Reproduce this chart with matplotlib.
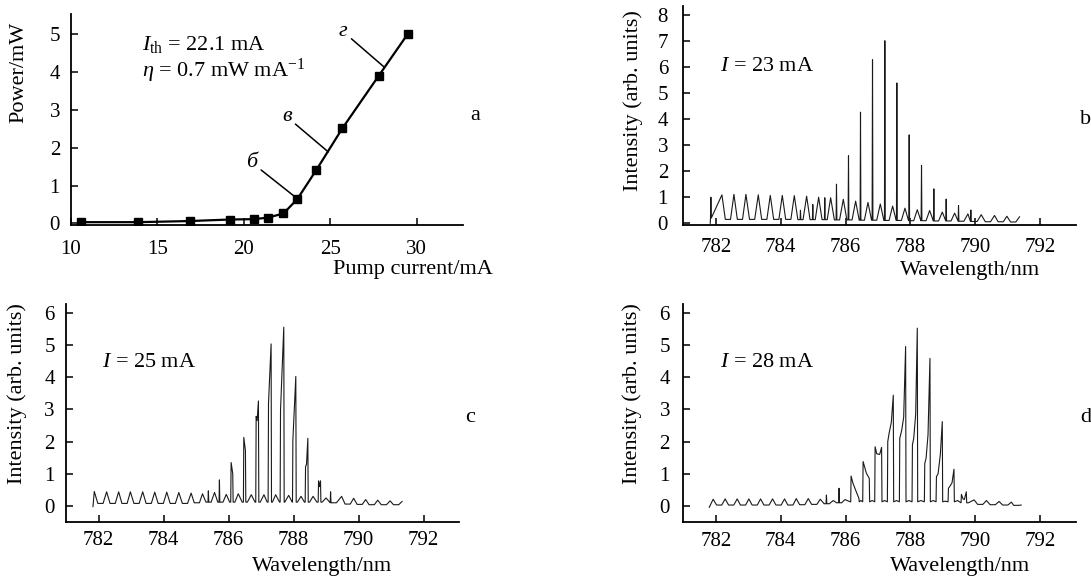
import matplotlib
matplotlib.use("Agg")
import matplotlib.pyplot as plt

plt.rcParams['font.family'] = ['Liberation Serif', 'DejaVu Serif']
plt.rcParams['mathtext.fontset'] = 'custom'
plt.rcParams['mathtext.rm'] = 'Liberation Serif'
plt.rcParams['mathtext.it'] = 'Liberation Serif:italic'
plt.rcParams['mathtext.bf'] = 'Liberation Serif:bold'

# ---------------- panel a: light-current curve ----------------
pump_current = [10.6, 13.9, 16.9, 19.2, 20.6, 21.4, 22.3, 23.1, 24.2, 25.7, 27.8, 29.5]
power_mw = [0.03, 0.03, 0.06, 0.10, 0.11, 0.15, 0.26, 0.64, 1.41, 2.51, 3.90, 5.02]
a_xticks = [10, 15, 20, 25, 30]
a_yticks = [0, 1, 2, 3, 4, 5]
a_marks = ['б', 'в', 'г']
a_mark_text_x = [20.46, 22.49, 25.76]
a_mark_text_y = [1.61, 2.82, 5.07]
a_mark_point_x = [22.97, 24.89, 28.11]
a_mark_point_y = [0.70, 1.89, 4.14]

# ---------------- panel b: I = 23 mA ----------------
b_start = (781.83, 0.0)
b_ripple_wl = [782.19, 782.56, 782.93, 783.31, 783.68, 784.05, 784.42, 784.80, 785.17,
               785.54, 785.93, 786.31, 786.69, 787.07, 787.45, 787.83, 788.21, 788.59,
               788.98, 789.36, 789.77, 790.18, 790.59, 790.97, 791.36]
b_ripple_int = [1.09, 1.11, 1.11, 1.09, 1.07, 1.07, 1.06, 1.04, 1.00, 0.98, 0.92, 0.85,
                0.80, 0.74, 0.66, 0.58, 0.52, 0.49, 0.43, 0.39, 0.36, 0.33, 0.30, 0.27, 0.25]
b_valley_int = [0.20, 0.15, 0.15, 0.15, 0.15, 0.15, 0.15, 0.14, 0.14, 0.14, 0.13, 0.13,
                0.12, 0.12, 0.11, 0.11, 0.10, 0.10, 0.09, 0.09, 0.08, 0.07, 0.06, 0.06, 0.05]
b_spike_wl = [781.85, 784.61, 784.99, 785.36, 785.72, 786.09, 786.46, 786.83, 787.21,
              787.58, 787.96, 788.34, 788.72, 789.10, 789.48, 789.86]
b_spike_int = [1.00, 0.50, 0.72, 0.98, 1.50, 2.59, 4.26, 6.27, 7.00, 5.38, 3.39, 2.22,
               1.32, 0.93, 0.68, 0.51]

# ---------------- panel c: I = 25 mA ----------------
c_start = (781.83, -0.02)
c_ripple_wl = [781.87, 782.25, 782.62, 782.98, 783.36, 783.73, 784.10, 784.47, 784.85,
               785.20, 785.57, 785.93, 786.30, 786.70, 787.09, 787.45, 787.85, 788.23,
               788.60, 789.00, 789.48, 789.85, 790.22, 790.59, 790.97, 791.34]
c_ripple_int = [0.45, 0.44, 0.44, 0.44, 0.44, 0.43, 0.43, 0.42, 0.40, 0.38, 0.42, 0.36,
                0.38, 0.35, 0.35, 0.35, 0.33, 0.30, 0.30, 0.25, 0.30, 0.24, 0.20, 0.18,
                0.16, 0.14]
c_valley_int = [0.00, 0.08, 0.08, 0.08, 0.08, 0.08, 0.08, 0.08, 0.08, 0.10, 0.12, 0.12,
                0.12, 0.12, 0.12, 0.12, 0.12, 0.12, 0.12, 0.12, 0.10, 0.06, 0.05, 0.04,
                0.04, 0.04]
c_spike_wl = [785.38, 785.72, 786.08, 786.13, 786.47, 786.52, 786.85, 786.88, 786.92,
              787.23, 787.31, 787.60, 787.70, 787.98, 788.07, 788.37, 788.40, 788.44,
              788.77, 788.80, 788.83, 789.14]
c_spike_int = [0.47, 0.81, 1.35, 1.00, 2.13, 1.72, 2.78, 2.65, 3.26, 3.19, 5.03, 2.98,
               5.55, 2.05, 4.02, 1.22, 1.30, 2.10, 0.78, 0.60, 0.78, 0.44]

# ---------------- panel d: I = 28 mA ----------------
d_start = (781.80, -0.04)
d_ripple_wl = [781.92, 782.29, 782.66, 783.02, 783.38, 783.75, 784.12, 784.48, 784.85,
               785.22, 785.62, 785.98, 786.47, 786.82, 787.20, 787.57, 787.95, 788.32,
               788.70, 789.07, 789.45, 789.96, 790.34, 790.73, 791.11, 791.41]
d_ripple_int = [0.21, 0.22, 0.22, 0.22, 0.22, 0.22, 0.22, 0.23, 0.23, 0.21, 0.17, 0.20,
                0.17, 0.17, 0.17, 0.17, 0.17, 0.17, 0.17, 0.15, 0.17, 0.19, 0.17, 0.14,
                0.12, 0.03]
d_valley_int = [0.00, 0.03, 0.03, 0.03, 0.03, 0.03, 0.03, 0.03, 0.04, 0.05, 0.07, 0.10,
                0.13, 0.13, 0.13, 0.13, 0.13, 0.13, 0.13, 0.13, 0.13, 0.10, 0.05, 0.04,
                0.03, 0.02]
d_spike_wl = [785.41, 785.80, 786.17, 786.23, 786.33, 786.41, 786.54, 786.64, 786.73,
              786.91, 786.96, 787.05, 787.11, 787.30, 787.34, 787.41, 787.47, 787.67,
              787.73, 787.79, 787.85, 788.06, 788.10, 788.16, 788.21, 788.44, 788.48,
              788.54, 788.60, 788.80, 788.85, 788.92, 788.98, 789.17, 789.22, 789.28,
              789.34, 789.57, 789.62, 789.66, 789.72]
d_spike_int = [0.34, 0.55, 0.93, 0.70, 0.44, 0.24, 1.38, 1.02, 0.86, 1.84, 1.62, 1.60,
               1.82, 2.00, 2.25, 2.60, 3.44, 2.10, 2.35, 2.75, 4.95, 1.90, 2.10, 2.85,
               5.52, 1.32, 1.48, 2.20, 4.58, 0.91, 1.00, 1.60, 2.62, 0.55, 0.62, 0.72,
               1.14, 0.36, 0.22, 0.20, 0.44]

wl_ticks = [782, 784, 786, 788, 790, 792]
b_yticks = [0, 1, 2, 3, 4, 5, 6, 7, 8]
cd_yticks = [0, 1, 2, 3, 4, 5, 6]


VH = 0.08    # half width of flat ripple valley (nm)
HW = 0.012   # half width of spike foot (nm)


def build_trace(start, rip_wl, rip_int, valley, sp_wl, sp_int):
    xs, ys = [start[0]], [start[1]]
    edges = [start[0]] + list(rip_wl)
    for i in range(len(rip_wl)):
        lo, hi = edges[i], edges[i + 1]
        v = valley[i]
        spikes = [(x, y) for x, y in zip(sp_wl, sp_int) if lo < x < hi]
        pts = []
        if spikes:
            fa = spikes[0][0] - HW
            fb = spikes[-1][0] + HW
            pts += [(fa, v)] + spikes + [(fb, v)]
        if i > 0:
            m = 0.5 * (lo + hi)
            for fx in (m - VH, m + VH):
                if not spikes or fx < fa or fx > fb:
                    pts.append((fx, v))
        pts.sort(key=lambda p: p[0])
        for x, y in pts:
            xs.append(x)
            ys.append(y)
        xs.append(rip_wl[i])
        ys.append(rip_int[i])
    return xs, ys


W, H = 1091, 578
fig = plt.figure(figsize=(W / 100, H / 100), dpi=100)


def px_axes(left, right, top, bottom):
    return fig.add_axes([left / W, 1 - bottom / H, (right - left) / W, (bottom - top) / H])


TICK_FS = 15
LAB_FS = 16


def style(ax, xpad, ypad):
    for s in ('top', 'right'):
        ax.spines[s].set_visible(False)
    for s in ('left', 'bottom'):
        ax.spines[s].set_linewidth(1.3)
    ax.tick_params(direction='in', length=5, width=1.1, labelsize=TICK_FS,
                   top=False, right=False)
    ax.tick_params(axis='x', pad=xpad)
    ax.tick_params(axis='y', pad=ypad)


# ---- panel a ----
ax_a = px_axes(70.7, 463, 14, 225)
ax_a.plot(pump_current, power_mw, '-s', color='black', lw=1.6, ms=6)
ax_a.set_xlim(10, 32.68)
ax_a.set_ylim(-0.045, 5.54)
ax_a.set_xticks(a_xticks)
ax_a.set_yticks(a_yticks)
style(ax_a, 10.5, 7.7)
ax_a.set_xlabel('Pump current/mA', fontsize=LAB_FS, va='center')
ax_a.xaxis.set_label_coords(0.873, -0.213)
ax_a.set_ylabel('Power/mW', fontsize=LAB_FS, va='center')
ax_a.yaxis.set_label_coords(-0.132, 0.725)
ax_a.text(14.1, 4.58, r'$I_{\mathrm{th}}$ = 22.1 mA', fontsize=LAB_FS, va='baseline')
ax_a.text(14.1, 3.88, r'$\eta$ = 0.7 mW mA$^{-1}$', fontsize=LAB_FS, va='baseline')
for lab, tx, ty, px, py in zip(a_marks, a_mark_text_x, a_mark_text_y, a_mark_point_x, a_mark_point_y):
    ax_a.annotate(lab, xy=(px, py), xytext=(tx, ty), ha='center', va='center',
                  fontsize=LAB_FS, fontstyle='italic',
                  arrowprops=dict(arrowstyle='-', lw=1.1, color='black', shrinkA=1, shrinkB=0))

# ---- spectra ----
spectra = [
    ('b', (683.3, 1076, 6, 225), (-0.065, 8.33), b_yticks,
     build_trace(b_start, b_ripple_wl, b_ripple_int, b_valley_int, b_spike_wl, b_spike_int),
     r'$I$ = 23 mA', 5.85, (9, 11), (0.730, -0.2055), (-0.129, 0.566)),
    ('c', (66, 459.3, 304, 522.3), (-0.506, 6.27), cd_yticks,
     build_trace(c_start, c_ripple_wl, c_ripple_int, c_valley_int, c_spike_wl, c_spike_int),
     r'$I$ = 25 mA', 4.3, (6, 8), (0.651, -0.2034), (-0.1253, 0.5877)),
    ('d', (683.3, 1076, 304, 522.3), (-0.506, 6.27), cd_yticks,
     build_trace(d_start, d_ripple_wl, d_ripple_int, d_valley_int, d_spike_wl, d_spike_int),
     r'$I$ = 28 mA', 4.3, (7.2, 9.6), (0.7046, -0.2034), (-0.1314, 0.5877)),
]

for name, box, ylim, yticks, (xs, ys), label, ly, pads, xlc, ylc in spectra:
    ax = px_axes(*box)
    ax.plot(xs, ys, color='#1a1a1a', lw=0.8)
    ax.set_xlim(781.0, 793.1)
    ax.set_ylim(*ylim)
    ax.set_xticks(wl_ticks)
    ax.set_yticks(yticks)
    style(ax, pads[0], pads[1])
    ax.set_xlabel('Wavelength/nm', fontsize=LAB_FS, va='center')
    ax.xaxis.set_label_coords(*xlc)
    ax.set_ylabel('Intensity (arb. units)', fontsize=LAB_FS, va='center')
    ax.yaxis.set_label_coords(*ylc)
    ax.text(782.12, ly, label, fontsize=LAB_FS, va='baseline')

# panel letters
fig.text(470 / W, 1 - 116 / H, 'a', fontsize=LAB_FS, ha='left', va='center')
fig.text(1080 / W, 1 - 120 / H, 'b', fontsize=LAB_FS, ha='left', va='center')
fig.text(465 / W, 1 - 418 / H, 'c', fontsize=LAB_FS, ha='left', va='center')
fig.text(1080 / W, 1 - 418 / H, 'd', fontsize=LAB_FS, ha='left', va='center')

fig.savefig('out.png', dpi=100)
